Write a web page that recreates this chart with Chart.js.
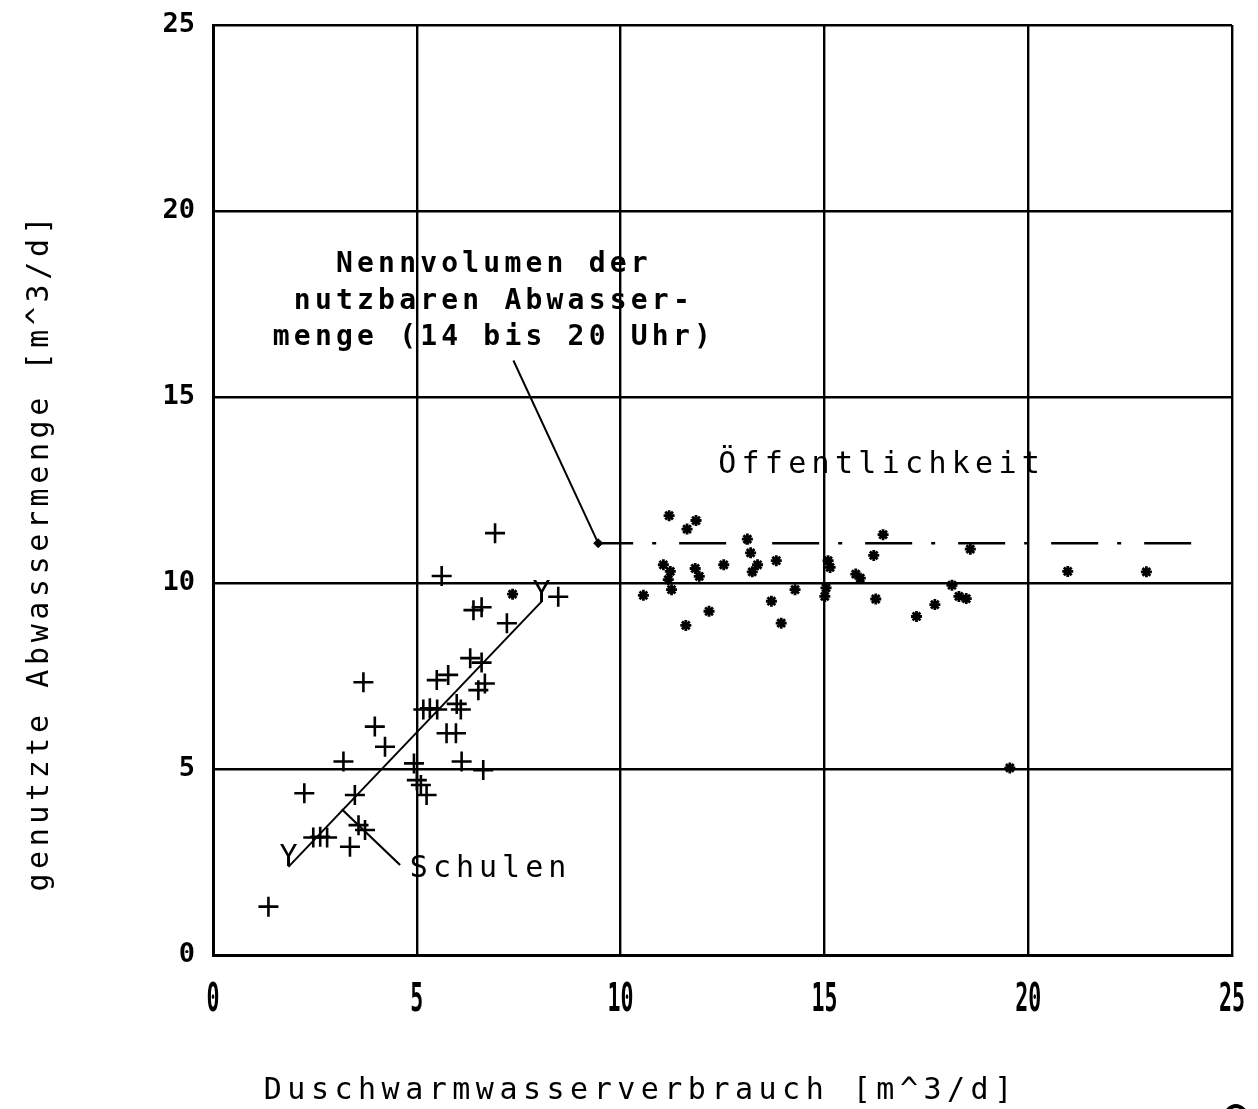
<!DOCTYPE html>
<html>
<head>
<meta charset="utf-8">
<title>Abwassermenge vs. Duschwarmwasserverbrauch</title>
<script src="https://cdn.jsdelivr.net/npm/chart.js@4/dist/chart.umd.min.js"></script>
<style>
  html, body { margin: 0; padding: 0; background: #fff; }
  #wrap { width: 1258px; height: 1109px; }
</style>
</head>
<body>
<div id="wrap"><canvas id="c" width="1258" height="1109"></canvas></div>
<script>
// Schulen: Duschwarmwasserverbrauch (x) und genutzte Abwassermenge (y), m^3/d
const schulenX = [6.92, 5.61, 8.47, 6.39, 6.59, 7.21, 6.31, 6.59, 6.67, 6.51,
                  5.49, 5.77, 5.16, 5.32, 5.50, 5.98, 6.08, 5.73, 5.96, 3.97,
                  4.22, 3.69, 3.20, 4.93, 6.10, 6.63, 5.00, 5.10, 5.24, 2.24,
                  3.48, 3.57, 3.73, 2.46, 2.63, 2.80, 3.36, 1.36];
const schulenY = [11.34, 10.19, 9.63, 9.27, 9.35, 8.92, 7.98, 7.86, 7.30, 7.12,
                  7.39, 7.53, 6.60, 6.63, 6.60, 6.75, 6.60, 5.96, 5.96, 6.14,
                  5.60, 7.33, 5.20, 5.15, 5.20, 4.97, 4.70, 4.57, 4.30, 4.35,
                  4.30, 3.49, 3.36, 3.16, 3.18, 3.16, 2.91, 1.30];

// Öffentlichkeit
const oeffX = [11.19, 11.85, 11.63, 13.11, 11.05, 11.22, 11.17, 11.25, 10.56, 11.83,
               11.93, 12.17, 11.60, 12.53, 13.19, 13.36, 13.23, 13.82, 14.28, 13.70,
               13.94, 15.09, 15.14, 15.04, 15.01, 15.77, 15.88, 16.44, 16.21, 16.26,
               17.26, 17.71, 18.13, 18.30, 18.48, 18.58, 20.97, 22.90, 7.35, 19.55];
const oeffY = [11.81, 11.68, 11.45, 11.18, 10.49, 10.31, 10.09, 9.82, 9.67, 10.39,
               10.18, 9.24, 8.86, 10.49, 10.81, 10.49, 10.30, 10.60, 9.82, 9.51,
               8.92, 10.60, 10.42, 9.87, 9.64, 10.24, 10.13, 11.30, 10.74, 9.57,
               9.10, 9.42, 9.94, 9.64, 9.58, 10.91, 10.31, 10.30, 9.70, 5.03];

// Ausgleichsgerade Schulen (Endpunkte Y ... Y)
const trendX = [1.85, 8.06];
const trendY = [2.37, 9.50];

// Nennvolumen der nutzbaren Abwassermenge (14 bis 20 Uhr)
const nennX = [9.45, 24.45];
const nennY = [11.07, 11.07];

// Hinweislinien der Beschriftungen
const leaderNennX = [7.37, 9.45];
const leaderNennY = [15.98, 11.07];
const leaderSchulenX = [3.16, 4.59];
const leaderSchulenY = [3.92, 2.42];

// Achsen
const axisMin = 0, axisMax = 25, axisStep = 5;
const xTickLabels = ['0', '5', '10', '15', '20', '25'];
const xTitle = 'Duschwarmwasserverbrauch [m^3/d]';
const yTitle = 'genutzte Abwassermenge [m^3/d]';
const nennText = ['Nennvolumen der', 'nutzbaren Abwasser-', 'menge (14 bis 20 Uhr)'];
const oeffText = 'Öffentlichkeit';
const schulenText = 'Schulen';

const pts = (xs, ys) => xs.map((x, i) => ({ x, y: ys[i] }));

const MONO = "'DejaVu Sans Mono', 'Liberation Mono', monospace";

function spacedText(ctx, text, x, y, spacing, align) {
  ctx.letterSpacing = spacing + 'px';
  const w = ctx.measureText(text).width;
  let sx = x;
  if (align === 'center') sx = x - (w - spacing) / 2;
  ctx.textAlign = 'left';
  ctx.fillText(text, sx, y);
  ctx.letterSpacing = '0px';
}

const textPlugin = {
  id: 'plotText',
  afterDraw(chart) {
    const ctx = chart.ctx;
    const xs = chart.scales.x, ys = chart.scales.y;
    ctx.save();
    ctx.fillStyle = '#000';
    ctx.strokeStyle = '#000';
    ctx.textBaseline = 'middle';

    // x tick labels (schmale, hohe Ziffern)
    ctx.font = 'bold 30px ' + MONO;
    xTickLabels.forEach((lab) => {
      const px = xs.getPixelForValue(Number(lab));
      ctx.save();
      ctx.translate(px, 1001);
      ctx.scale(0.72, 1.32);
      ctx.textAlign = 'center';
      ctx.fillText(lab, 0, 0);
      ctx.restore();
    });

    // axis titles
    ctx.font = '30px ' + MONO;
    spacedText(ctx, xTitle, 638, 1091, 5.5, 'center');
    ctx.save();
    ctx.translate(40, 554);
    ctx.rotate(-Math.PI / 2);
    spacedText(ctx, yTitle, 0, 0, 4.6, 'center');
    ctx.restore();

    // Nennvolumen annotation (bold)
    ctx.font = 'bold 28px ' + MONO;
    const nx = xs.getPixelForValue(6.84);
    const ny = ys.getPixelForValue(18.63) + 3;
    nennText.forEach((line, i) => {
      spacedText(ctx, line, nx, ny + i * 36.5, 4.2, 'center');
    });

    // Öffentlichkeit
    ctx.font = '30px ' + MONO;
    spacedText(ctx, oeffText, xs.getPixelForValue(16.34), ys.getPixelForValue(13.25) + 3, 5.3, 'center');

    // Schulen
    spacedText(ctx, schulenText, xs.getPixelForValue(4.83), ys.getPixelForValue(2.30), 5.0, 'left');

    // Y marks at the ends of the regression line
    ctx.font = '30px ' + MONO;
    ctx.textAlign = 'center';
    ctx.textBaseline = 'bottom';
    ctx.fillText('Y', xs.getPixelForValue(trendX[0]), ys.getPixelForValue(trendY[0]) + 6);
    ctx.fillText('Y', xs.getPixelForValue(trendX[1]), ys.getPixelForValue(trendY[1]) + 8);

    // partial glyph at the lower right page edge
    ctx.lineWidth = 4;
    ctx.beginPath();
    ctx.ellipse(1236, 1122, 12, 16, 0, Math.PI * 1.05, Math.PI * 1.95);
    ctx.stroke();
    ctx.restore();
  }
};

const chart = new Chart(document.getElementById('c'), {
  type: 'scatter',
  data: {
    datasets: [
      {
        label: 'Schulen',
        data: pts(schulenX, schulenY),
        pointStyle: 'cross',
        pointRadius: 10,
        pointBorderWidth: 2.6,
        borderColor: '#000',
        backgroundColor: '#000'
      },
      {
        label: 'Öffentlichkeit',
        data: pts(oeffX, oeffY),
        pointStyle: 'star',
        pointRadius: 5.5,
        pointBorderWidth: 2.8,
        borderColor: '#000',
        backgroundColor: '#000'
      },
      {
        label: 'Ausgleichsgerade',
        data: pts(trendX, trendY),
        showLine: true,
        borderColor: '#000',
        borderWidth: 2,
        pointRadius: 0
      },
      {
        label: 'Nennvolumen',
        data: pts(nennX, nennY),
        showLine: true,
        borderColor: '#000',
        borderWidth: 2.5,
        borderDash: [47, 19, 4, 23],
        borderDashOffset: 12,
        pointRadius: 0
      },
      {
        label: 'Hinweis Nennvolumen',
        data: pts(leaderNennX, leaderNennY),
        showLine: true,
        borderColor: '#000',
        backgroundColor: '#000',
        borderWidth: 2,
        pointStyle: 'rectRot',
        pointRadius: [0, 4.5],
        pointBorderWidth: 1
      },
      {
        label: 'Hinweis Schulen',
        data: pts(leaderSchulenX, leaderSchulenY),
        showLine: true,
        borderColor: '#000',
        borderWidth: 2.2,
        pointRadius: 0
      }
    ]
  },
  options: {
    responsive: false,
    animation: false,
    devicePixelRatio: 1,
    layout: { padding: { top: 25, right: 26, bottom: 0, left: 0 } },
    plugins: {
      legend: { display: false },
      tooltip: { enabled: false }
    },
    scales: {
      x: {
        type: 'linear',
        min: axisMin,
        max: axisMax,
        ticks: { stepSize: axisStep, display: false },
        grid: { color: '#000', lineWidth: 2.4, drawTicks: false },
        border: { display: true, color: '#000', width: 3 },
        afterFit(scale) {
          scale.height = 154;
          scale.paddingLeft = 0;
          scale.paddingRight = 0;
        }
      },
      y: {
        type: 'linear',
        min: axisMin,
        max: axisMax,
        ticks: {
          stepSize: axisStep,
          color: '#000',
          padding: 18,
          font: { family: MONO, size: 27, weight: 'bold' }
        },
        grid: { color: '#000', lineWidth: 2.4, drawTicks: false },
        border: { display: true, color: '#000', width: 3 },
        afterFit(scale) {
          scale.width = 213;
          scale.paddingTop = 0;
          scale.paddingBottom = 0;
        }
      }
    }
  },
  plugins: [textPlugin]
});
</script>
</body>
</html>
